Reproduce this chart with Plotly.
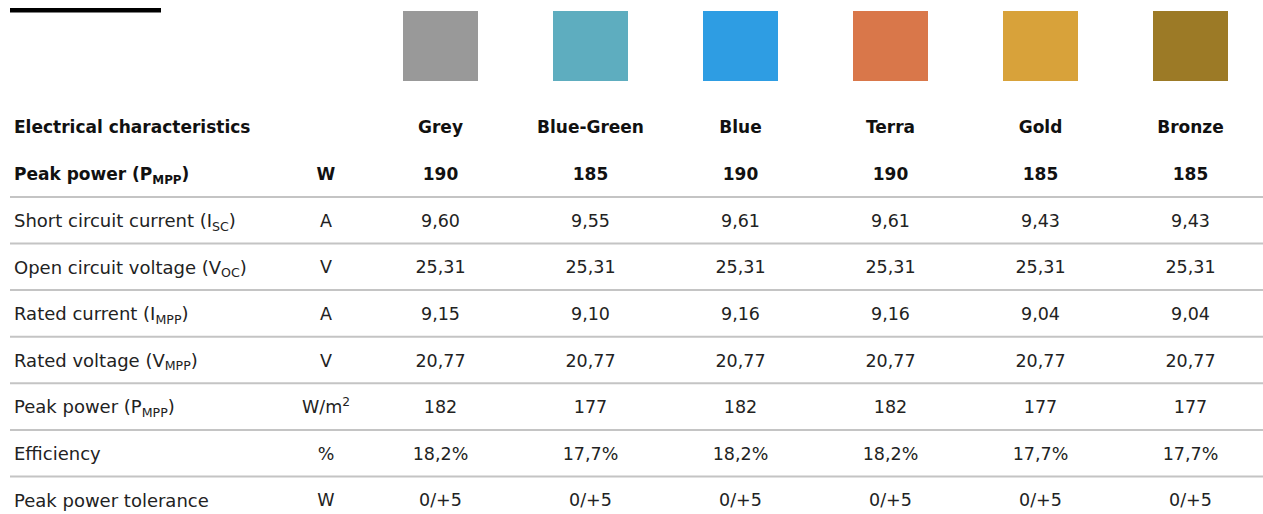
import plotly.graph_objects as go

# ---------------- data ----------------
finishes = ["Grey", "Blue-Green", "Blue", "Terra", "Gold", "Bronze"]
swatch_colors = ["#999999", "#5EADBF", "#2E9DE3", "#D9774A", "#D8A23A", "#9C7A26"]

header_label = "Electrical characteristics"
params = [
    "Peak power (P<sub>MPP</sub>)",
    "Short circuit current (I<sub>SC</sub>)",
    "Open circuit voltage (V<sub>OC</sub>)",
    "Rated current (I<sub>MPP</sub>)",
    "Rated voltage (V<sub>MPP</sub>)",
    "Peak power (P<sub>MPP</sub>)",
    "Efficiency",
    "Peak power tolerance",
]
units = ["W", "A", "V", "A", "V", "W/m<sup>2</sup>", "%", "W"]

peak_power_w = ["190", "185", "190", "190", "185", "185"]
short_circuit_current = ["9,60", "9,55", "9,61", "9,61", "9,43", "9,43"]
open_circuit_voltage = ["25,31", "25,31", "25,31", "25,31", "25,31", "25,31"]
rated_current = ["9,15", "9,10", "9,16", "9,16", "9,04", "9,04"]
rated_voltage = ["20,77", "20,77", "20,77", "20,77", "20,77", "20,77"]
peak_power_m2 = ["182", "177", "182", "182", "177", "177"]
efficiency = ["18,2%", "17,7%", "18,2%", "18,2%", "17,7%", "17,7%"]
tolerance = ["0/+5", "0/+5", "0/+5", "0/+5", "0/+5", "0/+5"]

rows_values = [peak_power_w, short_circuit_current, open_circuit_voltage,
               rated_current, rated_voltage, peak_power_m2, efficiency, tolerance]

# ---------------- layout constants ----------------
W, H = 1263, 514
COL_PX = 150.0          # column spacing in px
X0_PX = 440.5           # first value column centre px
ROW_PX = 46.6           # row spacing px
Y0_PX = 127.0           # header row px
TEXT_DY = 2.2 / ROW_PX  # small downward nudge of text baseline

def xr(px):
    return (px - X0_PX) / COL_PX

def yr(px):
    return (px - Y0_PX) / ROW_PX

LABEL_X = xr(14)
UNIT_X = xr(326)

BOLD = dict(family="DejaVu Sans, sans-serif", size=17, color="#111111", weight="bold")
BODY = dict(family="DejaVu Sans, sans-serif", size=17.5, color="#222222")
BODY_LABEL = dict(family="DejaVu Sans, sans-serif", size=18, color="#222222")

fig = go.Figure()

cols = list(range(len(finishes)))

# header row (r = 0)
fig.add_trace(go.Scatter(x=cols, y=[TEXT_DY] * len(cols), mode="text", text=finishes,
                         textposition="middle center", textfont=BOLD, hoverinfo="skip"))
fig.add_trace(go.Scatter(x=[LABEL_X], y=[TEXT_DY], mode="text", text=[header_label],
                         textposition="middle right", textfont=BOLD, hoverinfo="skip"))

# data rows r = 1..8
for i, (label, unit, vals) in enumerate(zip(params, units, rows_values)):
    r = i + 1 + TEXT_DY
    font = BOLD if i == 0 else BODY
    lfont = BOLD if i == 0 else BODY_LABEL
    fig.add_trace(go.Scatter(x=cols, y=[r] * len(cols), mode="text", text=vals,
                             textposition="middle center", textfont=font, hoverinfo="skip"))
    fig.add_trace(go.Scatter(x=[LABEL_X], y=[r], mode="text", text=[label],
                             textposition="middle right", textfont=lfont, hoverinfo="skip"))
    fig.add_trace(go.Scatter(x=[UNIT_X], y=[r], mode="text", text=[unit],
                             textposition="middle center", textfont=font, hoverinfo="skip"))

shapes = []
# colour swatches
sw_half_w = 37.5 / COL_PX
sw_top, sw_bot = yr(11), yr(81)
for c, col in zip(cols, swatch_colors):
    shapes.append(dict(type="rect", xref="x", yref="y", x0=c - sw_half_w, x1=c + sw_half_w,
                       y0=sw_top, y1=sw_bot, fillcolor=col, line=dict(width=0), layer="below"))

# separator lines between data rows
for k in range(1, len(params)):
    yy = k + 0.5
    shapes.append(dict(type="line", xref="x", yref="y", x0=xr(10), x1=xr(W), y0=yy, y1=yy,
                       line=dict(color="#C4C4C4", width=2), layer="below"))

# black title bar
shapes.append(dict(type="rect", xref="x", yref="y", x0=xr(10), x1=xr(161), y0=yr(8), y1=yr(12.5),
                   fillcolor="#000000", line=dict(width=0)))

fig.update_layout(
    width=W, height=H,
    margin=dict(l=0, r=0, t=0, b=0),
    paper_bgcolor="white", plot_bgcolor="white",
    showlegend=False,
    shapes=shapes,
    xaxis=dict(range=[xr(0), xr(W)], visible=False, fixedrange=True),
    yaxis=dict(range=[yr(H), yr(0)], visible=False, fixedrange=True),
)

fig.write_html("out.html", config={"displayModeBar": False},
               post_script="document.body.style.margin='0';document.body.style.overflow='hidden';")
